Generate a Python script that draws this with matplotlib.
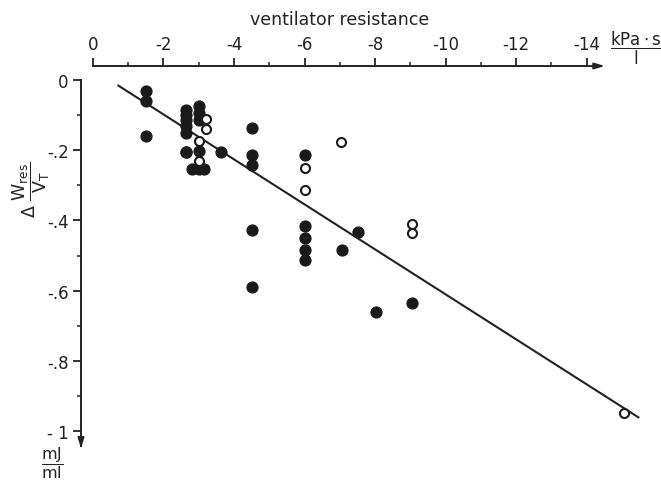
import matplotlib.pyplot as plt
import numpy as np

plt.rcParams['mathtext.default'] = 'regular'
plt.rcParams['axes.unicode_minus'] = False

# filled circles
filled_x = [-1.5, -1.5, -1.5,
            -2.65, -2.65, -2.65, -2.65, -2.65, -2.65, -2.65,
            -3.0, -3.0, -3.0, -3.0,
            -2.8, -3.0, -3.15,
            -3.63,
            -4.5, -4.5, -4.5, -4.5, -4.5,
            -6.0, -6.0, -6.0, -6.0, -6.0,
            -7.05, -7.53, -8.03, -9.04]
filled_y = [-0.03, -0.06, -0.16,
            -0.085, -0.10, -0.115, -0.13, -0.15, -0.205, -0.205,
            -0.075, -0.095, -0.115, -0.202,
            -0.254, -0.254, -0.254,
            -0.205,
            -0.138, -0.213, -0.243, -0.428, -0.59,
            -0.213, -0.416, -0.45, -0.483, -0.514,
            -0.483, -0.433, -0.66, -0.635]

# open circles
open_x = [-3.2, -3.2, -3.0, -3.0, -6.0, -6.0, -7.03, -9.04, -9.04, -15.05]
open_y = [-0.112, -0.14, -0.174, -0.231, -0.252, -0.313, -0.178, -0.411, -0.437, -0.95]

# regression line ends
line_x = [-0.72, -15.47]
line_y = [-0.016, -0.961]

xticks = [0, -2, -4, -6, -8, -10, -12, -14]
xtick_labels = ['0', '-2', '-4', '-6', '-8', '-10', '-12', '-14']
yticks = [0, -0.2, -0.4, -0.6, -0.8, -1.0]
ytick_labels = ['0', '-.2', '-.4', '-.6', '-.8', '- 1']

fig = plt.figure(figsize=(6.61, 4.81), dpi=100)
ax = fig.add_axes([81/661, 1-455/481, 569/661, 388/481])
ax.set_xlim(0.34, -15.80)
ax.set_ylim(-1.0655, 0.0399)

ax.plot(line_x, line_y, color='#222222', lw=1.5, clip_on=False, zorder=2)
ax.plot(filled_x, filled_y, 'o', ms=7.8, mfc='#1a1a1a', mec='#1a1a1a', clip_on=False, zorder=3)
ax.plot(open_x, open_y, 'o', ms=6.5, mfc='white', mec='#1a1a1a', mew=1.5, clip_on=False, zorder=3)

# axes: top and left only, with arrows
for s in ['right', 'bottom']:
    ax.spines[s].set_visible(False)
ax.spines['top'].set_bounds(0, -14.3)
ax.spines['left'].set_bounds(0, -1.04)
for s in ['top', 'left']:
    ax.spines[s].set_linewidth(1.4)
    ax.spines[s].set_color('#222222')
ax.annotate('', xy=(-14.6, 0.0399), xytext=(-14.2, 0.0399),
            arrowprops=dict(arrowstyle='-|>,head_length=0.6,head_width=0.18', color='#222222', lw=1.4),
            annotation_clip=False)
ax.annotate('', xy=(0.34, -1.058), xytext=(0.34, -1.03),
            arrowprops=dict(arrowstyle='-|>,head_length=0.6,head_width=0.18', color='#222222', lw=1.4),
            annotation_clip=False)

ax.xaxis.tick_top()
ax.set_xticks(xticks)
ax.set_xticklabels(xtick_labels)
ax.set_xticks(np.arange(-1, -15, -2), minor=True)
ax.set_yticks(yticks)
ax.set_yticklabels(ytick_labels)
ax.set_yticks([-0.1, -0.3, -0.5, -0.7, -0.9], minor=True)
ax.tick_params(axis='both', which='major', direction='out', length=6, width=1.3,
               labelsize=12, color='#222222', labelcolor='#222222')
ax.tick_params(axis='both', which='minor', direction='out', length=3, width=1.1, color='#222222')
ax.tick_params(axis='x', pad=3)
ax.tick_params(axis='y', pad=3)

fig.text(340/661, 1-20/481, 'ventilator resistance', ha='center', va='center', fontsize=12.5, color='#222222')
fig.text(636/661, 1-48/481, r'$\dfrac{kPa\cdot s}{l}$', ha='center', va='center', fontsize=12, color='#222222')
fig.text(52/661, 1-463/481, r'$\dfrac{mJ}{ml}$', ha='center', va='center', fontsize=11.5, color='#222222')
fig.text(31/661, 1-190/481, r'$\Delta\ \dfrac{W_{res}}{V_T}$', ha='center', va='center',
         rotation=90, fontsize=12.5, color='#222222')

fig.savefig('out.png', dpi=100)
